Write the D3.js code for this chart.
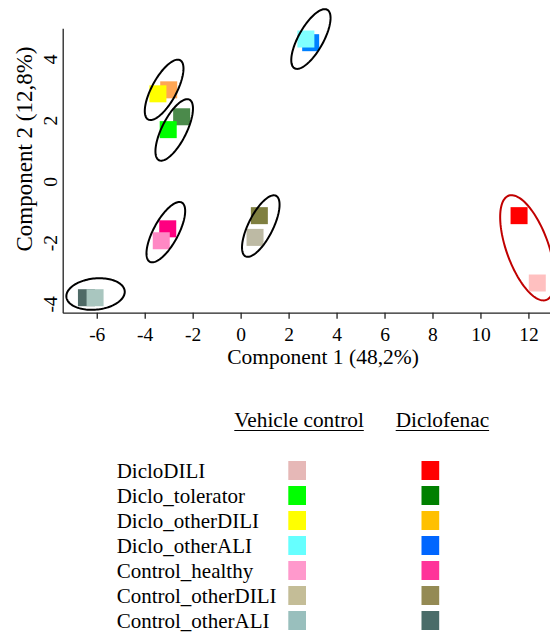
<!DOCTYPE html>
<html>
<head>
<meta charset="utf-8">
<script src="https://cdn.jsdelivr.net/npm/d3@7"></script>
<style>
    body { margin: 0; background: #fff; }
    svg text { font-family: "Liberation Serif", "Times New Roman", serif; fill: #000; }
</style>
</head>
<body>
<div id="chart"></div>
<script>
// groups, in legend order
const groups = ["DicloDILI", "Diclo_tolerator", "Diclo_otherDILI", "Diclo_otherALI",
    "Control_healthy", "Control_otherDILI", "Control_otherALI"];

// PCA scores (component 1, component 2)
const dicloX = [11.61, -2.46, -3.00, 2.92, -3.04, 0.78, -6.43];
const dicloY = [-1.12, 2.11, 2.99, 4.53, -1.55, -1.12, -3.80];
const vehicleX = [12.37, -3.02, -3.45, 2.72, -3.31, 0.60, -6.07];
const vehicleY = [-3.32, 1.69, 2.86, 4.65, -1.94, -1.83, -3.80];

// group ellipses: centre, half axes and rotation (degrees), in data units
const ellCx = [11.96, -2.77, -3.19, 2.93, -3.12, 0.84, -6.05];
const ellCy = [-2.17, 1.68, 2.99, 4.65, -1.66, -1.46, -3.68];
const ellRx = [1.88, 1.18, 1.18, 1.18, 1.18, 1.18, 1.22];
const ellRy = [0.845, 0.48, 0.48, 0.48, 0.48, 0.48, 0.51];
const ellAngle = [-63, 55, 53, 52, 53, 55, 4];

const xTicks = [-6, -4, -2, 0, 2, 4, 6, 8, 10, 12];
const yTicks = [-4, -2, 0, 2, 4];

// legend colours
const vehicleColors = ["#e6b8b7", "#00ff00", "#ffff00", "#66ffff", "#ff99cc", "#c4bd97", "#99bfbd"];
const dicloColors = ["#ff0000", "#008000", "#ffc000", "#0066ff", "#ff3399", "#948a54", "#4a6c69"];
// colours as they came out in the score plot
const vehiclePlotColors = ["#ffc0c0", "#00ff00", "#ffff00", "#80ffff", "#ff88c4", "#bdbaa4", "#a9c6bf"];
const dicloPlotColors = ["#ff0000", "#4b8a4b", "#ffa654", "#0080ff", "#ff0080", "#7f7f40", "#4f6a66"];
const ellColors = ["#c00000", "#000", "#000", "#000", "#000", "#000", "#000"];

const width = 550, height = 634;
const markSize = 17;
const serif = '"Liberation Serif", "Times New Roman", serif';

const svg = d3.select("#chart").append("svg")
    .attr("width", width)
    .attr("height", height)
    .style("background-color", "#fff");

const x = d3.scaleLinear().domain([-7.42, 12.9]).range([62.7, 550]);
const y = d3.scaleLinear().domain([-4.29, 5.0]).range([312.7, 28.3]);

// Axes (plain hyphen for negatives, like the original)
const xAxis = svg.append("g")
    .attr("transform", `translate(0,${y(-4.29)})`)
    .call(d3.axisBottom(x).tickValues(xTicks).tickFormat(d => String(d))
        .tickSize(6).tickSizeOuter(0).tickPadding(8));

const yAxis = svg.append("g")
    .attr("transform", `translate(${x(-7.42)},0)`)
    .call(d3.axisLeft(y).tickValues(yTicks).tickFormat(d => String(d))
        .tickSize(0).tickSizeOuter(0));

yAxis.selectAll("text")
    .attr("x", 0).attr("dy", null).attr("y", -6)
    .attr("text-anchor", "middle")
    .attr("transform", "rotate(-90)");

svg.selectAll("g").attr("font-family", null).attr("font-size", null);
svg.selectAll(".tick text")
    .style("font-family", serif)
    .style("font-size", "19.5px")
    .attr("fill", "#000");
svg.selectAll(".domain, .tick line").attr("stroke", "#222").attr("stroke-width", 1.3);

svg.append("text")
    .attr("x", 323)
    .attr("y", 364)
    .attr("text-anchor", "middle")
    .style("font-size", "21.5px")
    .text("Component 1 (48,2%)");

svg.append("text")
    .attr("transform", "translate(32,149) rotate(-90)")
    .attr("text-anchor", "middle")
    .style("font-size", "23px")
    .text("Component 2 (12,8%)");

// Points: Diclofenac first, vehicle on top
const plotData = groups.map((g, i) => ({ group: g, x: dicloX[i], y: dicloY[i], color: dicloPlotColors[i] }))
    .concat(groups.map((g, i) => ({ group: g, x: vehicleX[i], y: vehicleY[i], color: vehiclePlotColors[i] })));

svg.append("g").selectAll("rect")
    .data(plotData)
    .enter().append("rect")
    .attr("x", d => x(d.x) - markSize / 2)
    .attr("y", d => y(d.y) - markSize / 2)
    .attr("width", markSize)
    .attr("height", markSize)
    .attr("fill", d => d.color);

// Ellipses
const ellLine = d3.line().x(p => x(p[0])).y(p => y(p[1])).curve(d3.curveLinearClosed);

function ellipsePoints(i) {
    const a = ellAngle[i] * Math.PI / 180;
    return d3.range(0, 2 * Math.PI, Math.PI / 60).map(t => {
        const ex = ellRx[i] * Math.cos(t), ey = ellRy[i] * Math.sin(t);
        return [ellCx[i] + ex * Math.cos(a) - ey * Math.sin(a), ellCy[i] + ex * Math.sin(a) + ey * Math.cos(a)];
    });
}

svg.append("g").selectAll("path")
    .data(groups)
    .enter().append("path")
    .attr("d", (g, i) => ellLine(ellipsePoints(i)))
    .attr("fill", "none")
    .attr("stroke", (g, i) => ellColors[i])
    .attr("stroke-width", 2);

// Legend
const rowY = d3.scaleBand().domain(groups).range([458.5, 633.5]);
const legend = svg.append("g");

const headers = [["Vehicle control", 234.3], ["Diclofenac", 395.7]];
headers.forEach(h => {
    const t = legend.append("text")
        .attr("x", h[1])
        .attr("y", 427)
        .style("font-size", "21.3px")
        .text(h[0]);
    const w = t.node().getComputedTextLength();
    legend.append("line")
        .attr("x1", h[1]).attr("x2", h[1] + w)
        .attr("y1", 430.5).attr("y2", 430.5)
        .attr("stroke", "#000")
        .attr("stroke-width", 1);
});

legend.selectAll(".label")
    .data(groups)
    .enter().append("text")
    .attr("class", "label")
    .attr("x", 116.7)
    .attr("y", d => rowY(d) + 19)
    .style("font-size", "21px")
    .text(d => d);

legend.selectAll(".veh")
    .data(groups)
    .enter().append("rect")
    .attr("class", "veh")
    .attr("x", 288.3)
    .attr("y", d => rowY(d) + 2.5)
    .attr("width", 17.7)
    .attr("height", 19)
    .attr("fill", (d, i) => vehicleColors[i]);

legend.selectAll(".dic")
    .data(groups)
    .enter().append("rect")
    .attr("class", "dic")
    .attr("x", 421.5)
    .attr("y", d => rowY(d) + 2.5)
    .attr("width", 17.7)
    .attr("height", 19)
    .attr("fill", (d, i) => dicloColors[i]);
</script>
</body>
</html>
